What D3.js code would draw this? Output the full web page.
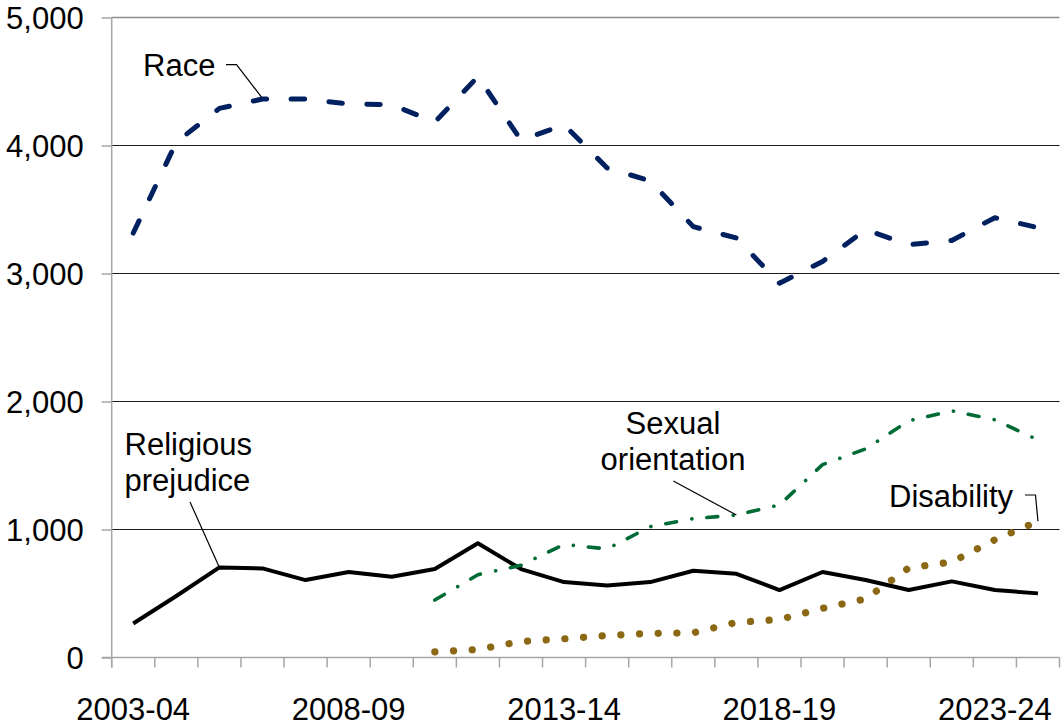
<!DOCTYPE html>
<html>
<head>
<meta charset="utf-8">
<script src="https://cdn.jsdelivr.net/npm/d3@7"></script>
<style>
  html, body { margin: 0; padding: 0; background: #fff; }
  svg { display: block; font-family: "Liberation Sans", Arial, sans-serif; }
</style>
</head>
<body>
<div id="chart"></div>
<script>
const years = ["2003-04", "2004-05", "2005-06", "2006-07", "2007-08", "2008-09", "2009-10",
  "2010-11", "2011-12", "2012-13", "2013-14", "2014-15", "2015-16", "2016-17", "2017-18",
  "2018-19", "2019-20", "2020-21", "2021-22", "2022-23", "2023-24", "2024-25"];
const shownYears = ["2003-04", "2008-09", "2013-14", "2018-19", "2023-24"];
const yTicks = [0, 1000, 2000, 3000, 4000, 5000];

const race = [3316, 4026, 4290, 4363, 4363, 4324, 4319, 4183, 4538, 4042, 4162,
  3825, 3723, 3366, 3277, 2924, 3094, 3342, 3225, 3258, 3436, 3358];
const religion = [266, 480, 704, 696, 605, 668, 631, 691, 892, 691, 589,
  563, 589, 678, 654, 527, 668, 605, 527, 595, 527, 501];
const sexualOrientation = [null, null, null, null, null, null, null, 449, 647, 720, 884,
  848, 1022, 1085, 1113, 1192, 1507, 1630, 1849, 1927, 1857, 1700];
const disability = [null, null, null, null, null, null, null, 44, 63, 125, 146,
  172, 188, 193, 274, 297, 384, 458, 700, 746, 920, 1064];

const width = 1062;
const height = 726;
const fontSize = 31;

const svg = d3.select("#chart").append("svg")
  .attr("width", width)
  .attr("height", height);

const x = d3.scaleBand().domain(years).range([111.7, 1059.5]).padding(0);
const y = d3.scaleLinear().domain([0, 5000]).range([657.5, 17.5]);
const cx = (d) => x(d) + x.bandwidth() / 2;

// gridlines
svg.append("g")
  .selectAll("line")
  .data(yTicks.filter((d) => d > 0))
  .join("line")
  .attr("x1", 111.7)
  .attr("x2", 1059.5)
  .attr("y1", (d) => y(d))
  .attr("y2", (d) => y(d))
  .attr("stroke", (d) => (d === 5000 ? "#8c8c8c" : "#1a1a1a"))
  .attr("stroke-width", (d) => (d === 5000 ? 1.5 : 1));

// y axis
const yAxis = svg.append("g")
  .attr("transform", "translate(111.7,0)")
  .call(d3.axisLeft(y).tickValues(yTicks).tickSize(10).tickPadding(18).tickFormat(d3.format(",")));
yAxis.select(".domain").remove();
yAxis.selectAll(".tick line").attr("stroke", "#a6a6a6").attr("stroke-width", 1.5);
yAxis.selectAll(".tick text")
  .attr("font-size", fontSize)
  .attr("font-family", "Liberation Sans, Arial, sans-serif")
  .attr("fill", "#000")
  .attr("dy", "0.36em");
svg.append("line")
  .attr("x1", 111.7).attr("x2", 111.7)
  .attr("y1", y(5000)).attr("y2", 667.5)
  .attr("stroke", "#a6a6a6").attr("stroke-width", 1.5);

// x axis
svg.append("line")
  .attr("x1", 101.7).attr("x2", 1059.5)
  .attr("y1", y(0)).attr("y2", y(0))
  .attr("stroke", "#a6a6a6").attr("stroke-width", 1.5);
svg.append("g")
  .selectAll("line")
  .data(years.concat(["end"]))
  .join("line")
  .attr("x1", (d, i) => 111.7 + i * x.bandwidth())
  .attr("x2", (d, i) => 111.7 + i * x.bandwidth())
  .attr("y1", y(0))
  .attr("y2", 667.5)
  .attr("stroke", "#a6a6a6")
  .attr("stroke-width", 1.5);
svg.append("g")
  .selectAll("text")
  .data(shownYears)
  .join("text")
  .attr("x", (d) => cx(d))
  .attr("y", 720)
  .attr("text-anchor", "middle")
  .attr("font-size", fontSize)
  .text((d) => d);

// series
const line = d3.line()
  .defined((d) => d[1] != null)
  .x((d) => cx(d[0]))
  .y((d) => y(d[1]));
const pairs = (vals) => years.map((yr, i) => [yr, vals[i]]).filter((d) => d[1] != null);

svg.append("path")
  .attr("d", line(pairs(religion)))
  .attr("fill", "none")
  .attr("stroke", "#000")
  .attr("stroke-width", 4)
  .attr("stroke-linejoin", "round");

svg.append("path")
  .attr("d", line(pairs(race)))
  .attr("fill", "none")
  .attr("stroke", "#002060")
  .attr("stroke-width", 5)
  .attr("stroke-linecap", "round")
  .attr("stroke-linejoin", "round")
  .attr("stroke-dasharray", "13.5 24.5");

svg.append("path")
  .attr("d", line(pairs(sexualOrientation)))
  .attr("fill", "none")
  .attr("stroke", "#006b35")
  .attr("stroke-width", 3.6)
  .attr("stroke-linecap", "round")
  .attr("stroke-linejoin", "round")
  .attr("stroke-dasharray", "11 15.5 0.1 15");

svg.append("path")
  .attr("d", line(pairs(disability)))
  .attr("fill", "none")
  .attr("stroke", "#8b6914")
  .attr("stroke-width", 7.2)
  .attr("stroke-linecap", "round")
  .attr("stroke-dasharray", "0.1 18.6");

// labels and leader lines
const labels = svg.append("g").attr("font-size", fontSize).attr("fill", "#000");

labels.append("text").attr("x", 143).attr("y", 76).text("Race");
svg.append("polyline")
  .attr("points", `226,64.7 236.5,64.7 ${cx("2006-07") - 1},${y(race[3]) - 2}`)
  .attr("fill", "none").attr("stroke", "#000").attr("stroke-width", 1.2);

const rel = labels.append("text").attr("x", 124.5).attr("y", 455);
rel.append("tspan").attr("x", 124.5).text("Religious");
rel.append("tspan").attr("x", 124.5).attr("dy", 35.7).text("prejudice");
svg.append("line")
  .attr("x1", 190).attr("y1", 502)
  .attr("x2", cx("2005-06")).attr("y2", y(religion[2]))
  .attr("stroke", "#000").attr("stroke-width", 1.2);

const sex = labels.append("text").attr("text-anchor", "middle").attr("y", 434.3);
sex.append("tspan").attr("x", 673).text("Sexual");
sex.append("tspan").attr("x", 673).attr("dy", 35.7).text("orientation");
svg.append("line")
  .attr("x1", 673.3).attr("y1", 481)
  .attr("x2", cx("2017-18")).attr("y2", y(sexualOrientation[14]))
  .attr("stroke", "#000").attr("stroke-width", 1.2);

labels.append("text").attr("x", 889).attr("y", 507.3).text("Disability");
svg.append("polyline")
  .attr("points", `1025,495 1035.5,495 ${cx("2024-25")},${y(disability[21])}`)
  .attr("fill", "none").attr("stroke", "#000").attr("stroke-width", 1.2);
</script>
</body>
</html>
